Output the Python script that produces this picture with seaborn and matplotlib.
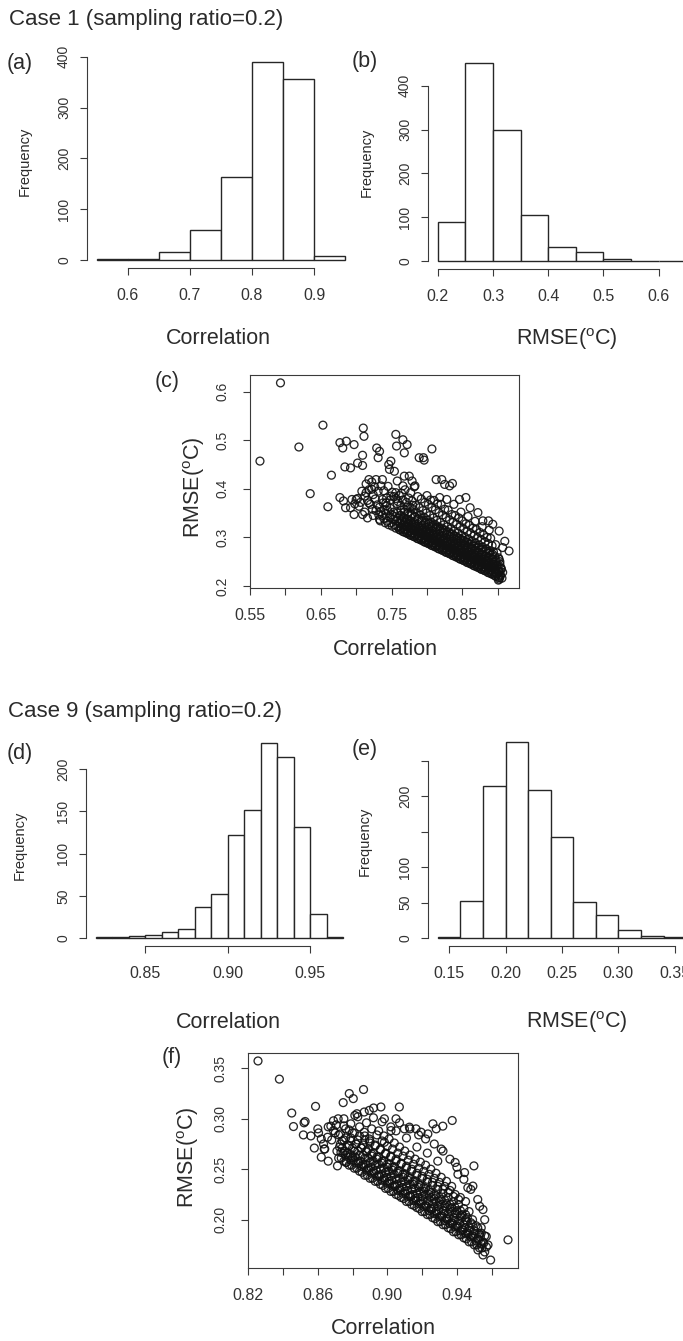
import numpy as np
import pandas as pd
import matplotlib
matplotlib.use("Agg")
import matplotlib.pyplot as plt
import seaborn as sns

# ---------------- data ----------------
# Case 1: histograms (bin edges and counts)
a_edges = [0.55, 0.60, 0.65, 0.70, 0.75, 0.80, 0.85, 0.90, 0.95]
a_counts = [2, 2, 15, 59, 164, 390, 357, 9]
a_xticks = [0.6, 0.7, 0.8, 0.9]
a_yticks = [0, 100, 200, 300, 400]

b_edges = [0.20, 0.25, 0.30, 0.35, 0.40, 0.45, 0.50, 0.55, 0.60, 0.65]
b_counts = [90, 452, 298, 105, 31, 21, 5, 0, 1]
b_xticks = [0.2, 0.3, 0.4, 0.5, 0.6]
b_yticks = [0, 100, 200, 300, 400]

# Case 9: histograms
d_edges = [0.82, 0.83, 0.84, 0.85, 0.86, 0.87, 0.88, 0.89, 0.90, 0.91,
           0.92, 0.93, 0.94, 0.95, 0.96, 0.97]
d_counts = [1, 1, 2, 4, 7, 11, 37, 52, 122, 151, 231, 214, 132, 29, 1]
d_xticks = [0.85, 0.90, 0.95]
d_yticks = [0, 50, 100, 150, 200]

e_edges = [0.14, 0.16, 0.18, 0.20, 0.22, 0.24, 0.26, 0.28, 0.30, 0.32, 0.34, 0.36]
e_counts = [1, 52, 215, 277, 209, 143, 51, 33, 12, 3, 2]
e_xticks = [0.15, 0.20, 0.25, 0.30, 0.35]
e_yticks = [0, 50, 100, 150, 200, 250]
e_yticklabels = ["0", "50", "100", "", "200", ""]

# Case 1 scatter (Correlation, RMSE)
c_points = [
    # isolated / sparse points
    (0.593, 0.618), (0.564, 0.457), (0.619, 0.486), (0.635, 0.390), (0.653, 0.531),
    (0.660, 0.363), (0.665, 0.428), (0.677, 0.495), (0.681, 0.484), (0.686, 0.498),
    (0.697, 0.491), (0.684, 0.445), (0.692, 0.443), (0.677, 0.382), (0.682, 0.375),
    (0.685, 0.361), (0.692, 0.361), (0.702, 0.453), (0.709, 0.448), (0.710, 0.525),
    (0.711, 0.508), (0.709, 0.469), (0.700, 0.378), (0.704, 0.364), (0.697, 0.347),
    (0.709, 0.347), (0.714, 0.392), (0.718, 0.419), (0.722, 0.399), (0.729, 0.484),
    (0.731, 0.464), (0.733, 0.477), (0.728, 0.419), (0.735, 0.406), (0.737, 0.419),
    (0.746, 0.450), (0.749, 0.457), (0.747, 0.440), (0.756, 0.512), (0.757, 0.488),
    (0.754, 0.436), (0.758, 0.416), (0.766, 0.501), (0.772, 0.491), (0.768, 0.474),
    (0.775, 0.426), (0.779, 0.416), (0.783, 0.406), (0.789, 0.464), (0.795, 0.464),
    (0.796, 0.459), (0.807, 0.482), (0.813, 0.419), (0.821, 0.419), (0.825, 0.409),
    (0.832, 0.406), (0.836, 0.411), (0.846, 0.378), (0.855, 0.382), (0.861, 0.361),
    (0.872, 0.351), (0.879, 0.334), (0.887, 0.334), (0.893, 0.327), (0.902, 0.313),
    (0.910, 0.292), (0.916, 0.272), (0.907, 0.279), (0.902, 0.255), (0.905, 0.234),
    (0.902, 0.214), (0.901, 0.212), (0.737, 0.378), (0.742, 0.371), (0.718, 0.371),
    (0.723, 0.358), (0.733, 0.337), (0.716, 0.340), (0.749, 0.385), (0.756, 0.392),
    (0.766, 0.406), (0.768, 0.426),
    (0.702, 0.380), (0.706, 0.372), (0.712, 0.385), (0.716, 0.376), (0.720, 0.368),
    (0.724, 0.388), (0.727, 0.379), (0.730, 0.367), (0.718, 0.398), (0.726, 0.404),
    (0.731, 0.395), (0.708, 0.395), (0.714, 0.410), (0.722, 0.414), (0.728, 0.355),
    (0.732, 0.346), (0.712, 0.352), (0.698, 0.369), (0.694, 0.378), (0.724, 0.345),
    # dense band
    (0.734, 0.334), (0.737, 0.345), (0.735, 0.353), (0.733, 0.362), (0.738, 0.371),
    (0.741, 0.330), (0.739, 0.339), (0.742, 0.349), (0.740, 0.357), (0.743, 0.381), (0.739, 0.396),
    (0.746, 0.326), (0.744, 0.333), (0.747, 0.342), (0.745, 0.355), (0.743, 0.365), (0.748, 0.377), (0.745, 0.405),
    (0.751, 0.323), (0.749, 0.330), (0.752, 0.337), (0.750, 0.347), (0.748, 0.360), (0.753, 0.384), (0.751, 0.393),
    (0.756, 0.319), (0.754, 0.326), (0.757, 0.334), (0.755, 0.343), (0.753, 0.352), (0.758, 0.369), (0.756, 0.380),
    (0.761, 0.316), (0.759, 0.322), (0.762, 0.330), (0.760, 0.339), (0.758, 0.350), (0.763, 0.366), (0.761, 0.386), (0.759, 0.374),
    (0.766, 0.312), (0.764, 0.318), (0.767, 0.325), (0.765, 0.333), (0.763, 0.345), (0.768, 0.358), (0.766, 0.377), (0.764, 0.391),
    (0.771, 0.309), (0.769, 0.315), (0.772, 0.322), (0.770, 0.331), (0.768, 0.340), (0.773, 0.352), (0.771, 0.372), (0.769, 0.398), (0.772, 0.362),
    (0.776, 0.305), (0.774, 0.311), (0.777, 0.318), (0.775, 0.326), (0.773, 0.335), (0.778, 0.348), (0.776, 0.362), (0.774, 0.381), (0.777, 0.392),
    (0.781, 0.302), (0.779, 0.308), (0.782, 0.314), (0.780, 0.321), (0.778, 0.330), (0.783, 0.343), (0.781, 0.357), (0.779, 0.375), (0.782, 0.404), (0.780, 0.366),
    (0.786, 0.298), (0.784, 0.304), (0.787, 0.311), (0.785, 0.318), (0.783, 0.327), (0.788, 0.338), (0.786, 0.350), (0.784, 0.366), (0.787, 0.384),
    (0.791, 0.295), (0.789, 0.300), (0.792, 0.307), (0.790, 0.314), (0.788, 0.322), (0.793, 0.333), (0.791, 0.346), (0.789, 0.361), (0.792, 0.379),
    (0.796, 0.291), (0.794, 0.297), (0.797, 0.304), (0.795, 0.311), (0.793, 0.319), (0.798, 0.329), (0.796, 0.341), (0.794, 0.355), (0.797, 0.372),
    (0.801, 0.288), (0.799, 0.293), (0.802, 0.299), (0.800, 0.306), (0.798, 0.314), (0.803, 0.323), (0.801, 0.336), (0.799, 0.350), (0.802, 0.368), (0.800, 0.386),
    (0.806, 0.284), (0.804, 0.290), (0.807, 0.296), (0.805, 0.303), (0.803, 0.311), (0.808, 0.320), (0.806, 0.331), (0.804, 0.345), (0.807, 0.362), (0.805, 0.377),
    (0.811, 0.281), (0.809, 0.286), (0.812, 0.292), (0.810, 0.299), (0.808, 0.307), (0.813, 0.316), (0.811, 0.327), (0.809, 0.340), (0.812, 0.357), (0.810, 0.376),
    (0.816, 0.277), (0.814, 0.283), (0.817, 0.289), (0.815, 0.296), (0.813, 0.304), (0.818, 0.312), (0.816, 0.322), (0.814, 0.335), (0.817, 0.351), (0.815, 0.369),
    (0.821, 0.274), (0.819, 0.279), (0.822, 0.285), (0.820, 0.292), (0.818, 0.300), (0.823, 0.309), (0.821, 0.319), (0.819, 0.331), (0.822, 0.346), (0.820, 0.368), (0.818, 0.382),
    (0.826, 0.270), (0.824, 0.276), (0.827, 0.282), (0.825, 0.288), (0.823, 0.296), (0.828, 0.305), (0.826, 0.315), (0.824, 0.326), (0.827, 0.341), (0.825, 0.358),
    (0.831, 0.267), (0.829, 0.272), (0.832, 0.278), (0.830, 0.285), (0.828, 0.292), (0.833, 0.301), (0.831, 0.311), (0.829, 0.322), (0.832, 0.336), (0.830, 0.356), (0.828, 0.378),
    (0.836, 0.263), (0.834, 0.269), (0.837, 0.275), (0.835, 0.281), (0.833, 0.289), (0.838, 0.297), (0.836, 0.307), (0.834, 0.318), (0.837, 0.331), (0.835, 0.347),
    (0.841, 0.260), (0.839, 0.265), (0.842, 0.271), (0.840, 0.278), (0.838, 0.285), (0.843, 0.293), (0.841, 0.302), (0.839, 0.313), (0.842, 0.327), (0.840, 0.345), (0.838, 0.368),
    (0.846, 0.256), (0.844, 0.262), (0.847, 0.268), (0.845, 0.274), (0.843, 0.281), (0.848, 0.289), (0.846, 0.298), (0.844, 0.309), (0.847, 0.322), (0.845, 0.340),
    (0.851, 0.253), (0.849, 0.258), (0.852, 0.264), (0.850, 0.270), (0.848, 0.277), (0.853, 0.285), (0.851, 0.294), (0.849, 0.304), (0.852, 0.317), (0.850, 0.334), (0.848, 0.352),
    (0.856, 0.249), (0.854, 0.255), (0.857, 0.261), (0.855, 0.267), (0.853, 0.274), (0.858, 0.281), (0.856, 0.290), (0.854, 0.300), (0.857, 0.312), (0.855, 0.328),
    (0.861, 0.246), (0.859, 0.251), (0.862, 0.257), (0.860, 0.263), (0.858, 0.270), (0.863, 0.278), (0.861, 0.286), (0.859, 0.296), (0.862, 0.308), (0.860, 0.325), (0.858, 0.343),
    (0.866, 0.242), (0.864, 0.248), (0.867, 0.254), (0.865, 0.260), (0.863, 0.266), (0.868, 0.274), (0.866, 0.282), (0.864, 0.292), (0.867, 0.304), (0.865, 0.319),
    (0.871, 0.239), (0.869, 0.244), (0.872, 0.250), (0.870, 0.256), (0.868, 0.263), (0.873, 0.270), (0.871, 0.278), (0.869, 0.288), (0.872, 0.299), (0.870, 0.316), (0.868, 0.333),
    (0.876, 0.235), (0.874, 0.241), (0.877, 0.247), (0.875, 0.253), (0.873, 0.259), (0.878, 0.266), (0.876, 0.274), (0.874, 0.284), (0.877, 0.295), (0.875, 0.310),
    (0.881, 0.232), (0.879, 0.237), (0.882, 0.243), (0.880, 0.249), (0.878, 0.255), (0.883, 0.262), (0.881, 0.270), (0.879, 0.280), (0.882, 0.291), (0.880, 0.305), (0.878, 0.322),
    (0.886, 0.228), (0.884, 0.234), (0.887, 0.240), (0.885, 0.246), (0.883, 0.252), (0.888, 0.259), (0.886, 0.267), (0.884, 0.276), (0.887, 0.287), (0.885, 0.300),
    (0.891, 0.225), (0.889, 0.230), (0.892, 0.236), (0.890, 0.242), (0.888, 0.248), (0.893, 0.255), (0.891, 0.263), (0.889, 0.272), (0.892, 0.283), (0.890, 0.298), (0.888, 0.315),
    (0.896, 0.221), (0.894, 0.227), (0.897, 0.233), (0.895, 0.239), (0.893, 0.245), (0.898, 0.252), (0.896, 0.260), (0.894, 0.270), (0.897, 0.285),
    (0.901, 0.218), (0.899, 0.224), (0.902, 0.230), (0.900, 0.236), (0.898, 0.243), (0.903, 0.250), (0.901, 0.258), (0.899, 0.268),
    (0.906, 0.216), (0.904, 0.221), (0.907, 0.228), (0.905, 0.236), (0.903, 0.245),
]
# Case 1 scatter: darkest core of the cloud (read between the columns above)
c_core = [
    (0.7625, 0.315), (0.7635, 0.321), (0.7615, 0.328), (0.764, 0.336), (0.762, 0.345), (0.763, 0.356),
    (0.7675, 0.311), (0.7685, 0.317), (0.7665, 0.324), (0.769, 0.332), (0.767, 0.341), (0.768, 0.352),
    (0.7725, 0.308), (0.7735, 0.314), (0.7715, 0.321), (0.774, 0.329), (0.772, 0.338), (0.773, 0.349),
    (0.7775, 0.304), (0.7785, 0.310), (0.7765, 0.317), (0.779, 0.325), (0.777, 0.334), (0.778, 0.345),
    (0.7825, 0.301), (0.7835, 0.307), (0.7815, 0.314), (0.784, 0.322), (0.782, 0.331), (0.783, 0.342),
    (0.7875, 0.297), (0.7885, 0.303), (0.7865, 0.310), (0.789, 0.318), (0.787, 0.327), (0.788, 0.338),
    (0.7925, 0.294), (0.7935, 0.300), (0.7915, 0.307), (0.794, 0.315), (0.792, 0.324), (0.793, 0.335),
    (0.7975, 0.290), (0.7985, 0.296), (0.7965, 0.303), (0.799, 0.311), (0.797, 0.320), (0.798, 0.331),
    (0.8025, 0.287), (0.8035, 0.293), (0.8015, 0.300), (0.804, 0.308), (0.802, 0.317), (0.803, 0.328),
    (0.8075, 0.283), (0.8085, 0.289), (0.8065, 0.296), (0.809, 0.304), (0.807, 0.313), (0.808, 0.324),
    (0.8125, 0.280), (0.8135, 0.286), (0.8115, 0.293), (0.814, 0.301), (0.812, 0.310), (0.813, 0.321),
    (0.8175, 0.276), (0.8185, 0.282), (0.8165, 0.289), (0.819, 0.297), (0.817, 0.306), (0.818, 0.317),
    (0.8225, 0.273), (0.8235, 0.279), (0.8215, 0.286), (0.824, 0.294), (0.822, 0.303), (0.823, 0.314),
    (0.8275, 0.269), (0.8285, 0.275), (0.8265, 0.282), (0.829, 0.290), (0.827, 0.299), (0.828, 0.310),
    (0.8325, 0.266), (0.8335, 0.272), (0.8315, 0.279), (0.834, 0.287), (0.832, 0.296), (0.833, 0.307),
    (0.8375, 0.262), (0.8385, 0.268), (0.8365, 0.275), (0.839, 0.283), (0.837, 0.292), (0.838, 0.303),
    (0.8425, 0.259), (0.8435, 0.265), (0.8415, 0.272), (0.844, 0.280), (0.842, 0.289), (0.843, 0.300),
    (0.8475, 0.255), (0.8485, 0.261), (0.8465, 0.268), (0.849, 0.276), (0.847, 0.285), (0.848, 0.296),
    (0.8525, 0.252), (0.8535, 0.258), (0.8515, 0.265), (0.854, 0.273), (0.852, 0.282), (0.853, 0.293),
    (0.8575, 0.248), (0.8585, 0.254), (0.8565, 0.261), (0.859, 0.269), (0.857, 0.278), (0.858, 0.289),
    (0.8625, 0.245), (0.8635, 0.251), (0.8615, 0.258), (0.864, 0.266), (0.862, 0.275), (0.863, 0.286),
    (0.8675, 0.241), (0.8685, 0.247), (0.8665, 0.254), (0.869, 0.262), (0.867, 0.271), (0.868, 0.282),
    (0.8725, 0.238), (0.8735, 0.244), (0.8715, 0.251), (0.874, 0.259), (0.872, 0.268), (0.873, 0.279),
    (0.8775, 0.234), (0.8785, 0.240), (0.8765, 0.247), (0.879, 0.255), (0.877, 0.264), (0.878, 0.275),
    (0.8825, 0.231), (0.8835, 0.237), (0.8815, 0.244), (0.884, 0.252), (0.882, 0.261), (0.883, 0.272),
    (0.8875, 0.227), (0.8885, 0.233), (0.8865, 0.240), (0.889, 0.248), (0.887, 0.257), (0.888, 0.268),
    (0.8925, 0.224), (0.8935, 0.230), (0.8915, 0.237), (0.894, 0.245), (0.892, 0.254), (0.893, 0.265),
    (0.8975, 0.220), (0.8985, 0.226), (0.8965, 0.233), (0.899, 0.241), (0.897, 0.250),
    (0.9025, 0.217), (0.9035, 0.223), (0.9015, 0.230), (0.904, 0.238),
]
c_xticks = [0.55, 0.60, 0.65, 0.70, 0.75, 0.80, 0.85, 0.90]
c_xticklabels = ["0.55", "", "0.65", "", "0.75", "", "0.85", ""]
c_yticks = [0.2, 0.3, 0.4, 0.5, 0.6]

# Case 9 scatter (Correlation, RMSE)
f_points = [
    # isolated / sparse points
    (0.8256, 0.3573), (0.8379, 0.3393), (0.8450, 0.3057), (0.8460, 0.2923), (0.8521, 0.2960),
    (0.8527, 0.2973), (0.8517, 0.2840), (0.8587, 0.3123), (0.8604, 0.2860), (0.8633, 0.2750),
    (0.8637, 0.2700), (0.8656, 0.2817), (0.8675, 0.2927), (0.8690, 0.2883), (0.8706, 0.2940),
    (0.8717, 0.3000), (0.8746, 0.3160), (0.8781, 0.3250), (0.8804, 0.3200), (0.8863, 0.3290),
    (0.8813, 0.3033), (0.8825, 0.3050), (0.8867, 0.3067), (0.8896, 0.3083), (0.8921, 0.3107),
    (0.8963, 0.3117), (0.8983, 0.3000), (0.9050, 0.3000), (0.9069, 0.3117), (0.9098, 0.2900),
    (0.9127, 0.2917), (0.9165, 0.2900), (0.9194, 0.2867), (0.9233, 0.2850), (0.9262, 0.2950),
    (0.9281, 0.2900), (0.9319, 0.2927), (0.9373, 0.2983), (0.9310, 0.2700), (0.9390, 0.2567),
    (0.9406, 0.2450), (0.9444, 0.2467), (0.9498, 0.2533), (0.9463, 0.2317), (0.9492, 0.2333),
    (0.9531, 0.2133), (0.9560, 0.2000), (0.9540, 0.1867), (0.9569, 0.1833), (0.9579, 0.1750),
    (0.9694, 0.1800), (0.9594, 0.1600), (0.9550, 0.1650), (0.9521, 0.1700), (0.8733, 0.2667),
    (0.8762, 0.2567), (0.8713, 0.2533), (0.8790, 0.2633), (0.8867, 0.2867), (0.8896, 0.2800),
    (0.9021, 0.2883), (0.8983, 0.2767),
    (0.862, 0.262), (0.864, 0.270), (0.866, 0.258), (0.868, 0.279), (0.870, 0.286),
    (0.866, 0.292), (0.862, 0.280), (0.858, 0.271), (0.856, 0.283), (0.860, 0.290),
    (0.869, 0.298), (0.875, 0.300), (0.879, 0.295), (0.883, 0.302), (0.888, 0.296),
    (0.892, 0.301), (0.897, 0.297), (0.902, 0.292), (0.907, 0.296), (0.913, 0.290),
    (0.918, 0.284), (0.922, 0.280), (0.927, 0.275), (0.932, 0.268), (0.936, 0.260),
    (0.940, 0.252), (0.944, 0.240), (0.948, 0.230), (0.952, 0.220), (0.955, 0.210),
    # dense band
    (0.872, 0.261), (0.871, 0.268), (0.873, 0.275), (0.872, 0.284),
    (0.875, 0.258), (0.876, 0.264), (0.874, 0.271), (0.875, 0.279), (0.876, 0.290),
    (0.878, 0.254), (0.879, 0.259), (0.877, 0.266), (0.878, 0.273), (0.879, 0.281),
    (0.881, 0.251), (0.882, 0.256), (0.880, 0.262), (0.881, 0.268), (0.882, 0.275), (0.880, 0.286),
    (0.884, 0.248), (0.885, 0.253), (0.883, 0.258), (0.884, 0.264), (0.885, 0.271), (0.883, 0.279), (0.884, 0.292),
    (0.887, 0.244), (0.888, 0.249), (0.886, 0.255), (0.887, 0.261), (0.888, 0.267), (0.886, 0.274), (0.887, 0.283),
    (0.890, 0.241), (0.891, 0.246), (0.889, 0.251), (0.890, 0.257), (0.891, 0.263), (0.889, 0.270), (0.890, 0.278), (0.891, 0.290),
    (0.893, 0.238), (0.894, 0.243), (0.892, 0.248), (0.893, 0.254), (0.894, 0.260), (0.892, 0.266), (0.893, 0.274), (0.894, 0.284),
    (0.896, 0.235), (0.897, 0.239), (0.895, 0.244), (0.896, 0.250), (0.897, 0.256), (0.895, 0.262), (0.896, 0.269), (0.897, 0.278), (0.895, 0.288),
    (0.899, 0.231), (0.900, 0.236), (0.898, 0.241), (0.899, 0.247), (0.900, 0.252), (0.898, 0.258), (0.899, 0.265), (0.900, 0.273), (0.898, 0.283),
    (0.902, 0.228), (0.903, 0.233), (0.901, 0.238), (0.902, 0.243), (0.903, 0.249), (0.901, 0.255), (0.902, 0.262), (0.903, 0.270), (0.901, 0.280),
    (0.905, 0.225), (0.906, 0.229), (0.904, 0.234), (0.905, 0.240), (0.906, 0.246), (0.904, 0.252), (0.905, 0.258), (0.906, 0.266), (0.904, 0.276), (0.905, 0.288),
    (0.908, 0.222), (0.909, 0.226), (0.907, 0.231), (0.908, 0.237), (0.909, 0.242), (0.907, 0.248), (0.908, 0.255), (0.909, 0.263), (0.907, 0.272),
    (0.911, 0.218), (0.912, 0.223), (0.910, 0.228), (0.911, 0.233), (0.912, 0.239), (0.910, 0.245), (0.911, 0.251), (0.912, 0.259), (0.910, 0.268), (0.911, 0.281),
    (0.914, 0.215), (0.915, 0.219), (0.913, 0.224), (0.914, 0.230), (0.915, 0.235), (0.913, 0.241), (0.914, 0.248), (0.915, 0.255), (0.913, 0.264),
    (0.917, 0.212), (0.918, 0.216), (0.916, 0.221), (0.917, 0.226), (0.918, 0.232), (0.916, 0.238), (0.917, 0.244), (0.918, 0.251), (0.916, 0.260), (0.917, 0.272),
    (0.920, 0.208), (0.921, 0.213), (0.919, 0.218), (0.920, 0.223), (0.921, 0.228), (0.919, 0.234), (0.920, 0.241), (0.921, 0.248), (0.919, 0.257),
    (0.923, 0.205), (0.924, 0.209), (0.922, 0.214), (0.923, 0.219), (0.924, 0.225), (0.922, 0.231), (0.923, 0.237), (0.924, 0.245), (0.922, 0.254), (0.923, 0.266),
    (0.926, 0.202), (0.927, 0.206), (0.925, 0.211), (0.926, 0.216), (0.927, 0.221), (0.925, 0.227), (0.926, 0.234), (0.927, 0.241), (0.925, 0.250),
    (0.929, 0.198), (0.930, 0.203), (0.928, 0.208), (0.929, 0.213), (0.930, 0.218), (0.928, 0.224), (0.929, 0.230), (0.930, 0.237), (0.928, 0.246), (0.929, 0.258),
    (0.932, 0.195), (0.933, 0.199), (0.931, 0.204), (0.932, 0.209), (0.933, 0.214), (0.931, 0.220), (0.932, 0.226), (0.933, 0.233), (0.931, 0.242),
    (0.935, 0.192), (0.936, 0.196), (0.934, 0.201), (0.935, 0.206), (0.936, 0.211), (0.934, 0.216), (0.935, 0.222), (0.936, 0.229), (0.934, 0.238),
    (0.938, 0.188), (0.939, 0.193), (0.937, 0.197), (0.938, 0.202), (0.939, 0.207), (0.937, 0.212), (0.938, 0.218), (0.939, 0.225), (0.937, 0.233),
    (0.941, 0.185), (0.942, 0.189), (0.940, 0.194), (0.941, 0.199), (0.942, 0.204), (0.940, 0.209), (0.941, 0.215), (0.942, 0.222),
    (0.944, 0.182), (0.945, 0.186), (0.943, 0.190), (0.944, 0.195), (0.945, 0.200), (0.943, 0.205), (0.944, 0.211), (0.945, 0.218),
    (0.947, 0.178), (0.948, 0.183), (0.946, 0.187), (0.947, 0.192), (0.948, 0.197), (0.946, 0.202), (0.947, 0.208),
    (0.950, 0.175), (0.951, 0.179), (0.949, 0.184), (0.950, 0.189), (0.951, 0.194), (0.949, 0.200),
    (0.953, 0.172), (0.954, 0.176), (0.952, 0.181), (0.953, 0.186), (0.954, 0.192),
    (0.956, 0.168), (0.957, 0.173), (0.955, 0.178), (0.956, 0.184),
]
# Case 9 scatter: darkest core of the cloud (read between the columns above)
f_core = [
    (0.8735, 0.261), (0.8745, 0.266), (0.8725, 0.272), (0.874, 0.278), (0.873, 0.285), (0.875, 0.293),
    (0.8765, 0.257), (0.8775, 0.262), (0.8755, 0.268), (0.877, 0.274), (0.876, 0.281), (0.878, 0.289),
    (0.8795, 0.254), (0.8805, 0.259), (0.8785, 0.265), (0.880, 0.271), (0.879, 0.278), (0.881, 0.286),
    (0.8825, 0.251), (0.8835, 0.256), (0.8815, 0.262), (0.883, 0.268), (0.882, 0.275), (0.884, 0.283),
    (0.8855, 0.247), (0.8865, 0.252), (0.8845, 0.258), (0.886, 0.264), (0.885, 0.271), (0.887, 0.279),
    (0.8885, 0.244), (0.8895, 0.249), (0.8875, 0.255), (0.889, 0.261), (0.888, 0.268), (0.890, 0.276),
    (0.8915, 0.241), (0.8925, 0.246), (0.8905, 0.252), (0.892, 0.258), (0.891, 0.265), (0.893, 0.273),
    (0.8945, 0.238), (0.8955, 0.243), (0.8935, 0.249), (0.895, 0.255), (0.894, 0.262), (0.896, 0.270),
    (0.8975, 0.234), (0.8985, 0.239), (0.8965, 0.245), (0.898, 0.251), (0.897, 0.258), (0.899, 0.266),
    (0.9005, 0.231), (0.9015, 0.236), (0.8995, 0.242), (0.901, 0.248), (0.900, 0.255), (0.902, 0.263),
    (0.9035, 0.228), (0.9045, 0.233), (0.9025, 0.239), (0.904, 0.245), (0.903, 0.252), (0.905, 0.260),
    (0.9065, 0.224), (0.9075, 0.229), (0.9055, 0.235), (0.907, 0.241), (0.906, 0.248), (0.908, 0.256),
    (0.9095, 0.221), (0.9105, 0.226), (0.9085, 0.232), (0.910, 0.238), (0.909, 0.245), (0.911, 0.253),
    (0.9125, 0.218), (0.9135, 0.223), (0.9115, 0.229), (0.913, 0.235), (0.912, 0.242), (0.914, 0.250),
    (0.9155, 0.214), (0.9165, 0.219), (0.9145, 0.225), (0.916, 0.231), (0.915, 0.238), (0.917, 0.246),
    (0.9185, 0.211), (0.9195, 0.216), (0.9175, 0.222), (0.919, 0.228), (0.918, 0.235), (0.920, 0.243),
    (0.9215, 0.208), (0.9225, 0.213), (0.9205, 0.219), (0.922, 0.225), (0.921, 0.232), (0.923, 0.240),
    (0.9245, 0.205), (0.9255, 0.210), (0.9235, 0.216), (0.925, 0.222), (0.924, 0.229), (0.926, 0.237),
    (0.9275, 0.201), (0.9285, 0.206), (0.9265, 0.212), (0.928, 0.218), (0.927, 0.225), (0.929, 0.233),
    (0.9305, 0.198), (0.9315, 0.203), (0.9295, 0.209), (0.931, 0.215), (0.930, 0.222), (0.932, 0.230),
    (0.9335, 0.195), (0.9345, 0.200), (0.9325, 0.206), (0.934, 0.212), (0.933, 0.219), (0.935, 0.227),
    (0.9365, 0.191), (0.9375, 0.196), (0.9355, 0.202), (0.937, 0.208), (0.936, 0.215), (0.938, 0.223),
    (0.9395, 0.188), (0.9405, 0.193), (0.9385, 0.199), (0.940, 0.205), (0.939, 0.212), (0.941, 0.220),
    (0.9425, 0.185), (0.9435, 0.190), (0.9415, 0.196), (0.943, 0.202), (0.942, 0.209),
    (0.9455, 0.181), (0.9465, 0.186), (0.9445, 0.192), (0.946, 0.198), (0.945, 0.205),
    (0.9485, 0.178), (0.9495, 0.183), (0.9475, 0.189), (0.949, 0.195),
    (0.9515, 0.175), (0.9525, 0.180), (0.9505, 0.186), (0.952, 0.192),
    (0.9545, 0.172), (0.9555, 0.177), (0.9535, 0.183),
]
f_xticks = [0.82, 0.84, 0.86, 0.88, 0.90, 0.92, 0.94, 0.96]
f_xticklabels = ["0.82", "", "0.86", "", "0.90", "", "0.94", ""]
f_yticks = [0.20, 0.25, 0.30, 0.35]
f_yticklabels = ["0.20", "0.25", "0.30", "0.35"]

# ---------------- style ----------------
sns.set_theme(style="ticks")
plt.rcParams["font.family"] = ["Liberation Sans", "DejaVu Sans"]
plt.rcParams["mathtext.fontset"] = "custom"
plt.rcParams["mathtext.rm"] = "Liberation Sans"
plt.rcParams["mathtext.it"] = "Liberation Sans:italic"

W, H = 683, 1341
fig = plt.figure(figsize=(W / 100, H / 100), dpi=100)
fig.patch.set_facecolor("white")

INK = "#2b2b2b"
AX_C = "#3a3a3a"
BIG = 15.5
XT = 11.5
YT = 10
FREQ = 10.5
RMSE_LBL = r"RMSE($^{\mathrm{o}}$C)"


def px_axes(l, t, r, b):
    return fig.add_axes([l / W, 1 - b / H, (r - l) / W, (b - t) / H])


def ftext(x, y, s, **kw):
    kw.setdefault("color", INK)
    fig.text(x / W, 1 - y / H, s, **kw)


def rlim(lo, hi):
    d = (hi - lo) * 0.04
    return lo - d, hi + d


def style_ticks(ax, xpad, ypad):
    ax.tick_params(axis="both", direction="out", length=5, width=0.8,
                   color=AX_C, labelcolor="#333333")
    ax.tick_params(axis="x", labelsize=XT, pad=xpad)
    ax.tick_params(axis="y", labelsize=YT, pad=ypad, labelrotation=90)
    for t in ax.get_yticklabels():
        t.set_verticalalignment("center")
    ax.set_xlabel("")
    ax.set_ylabel("")


def hist_panel(ax, edges, counts, xticks, yticks, yticklabels=None, xfmt="{:.1f}"):
    centers = [(edges[i] + edges[i + 1]) / 2 for i in range(len(counts))]
    df = pd.DataFrame({"x": centers, "w": counts})
    sns.histplot(data=df, x="x", weights="w", bins=edges, ax=ax,
                 color="white", edgecolor="#262626", linewidth=1.0,
                 alpha=1.0, fill=True)
    ax.set_xlim(*rlim(edges[0], edges[-1]))
    ax.set_ylim(*rlim(0, max(counts)))
    ax.set_xticks(xticks)
    ax.set_xticklabels([xfmt.format(v) for v in xticks])
    ax.set_yticks(yticks)
    ax.set_yticklabels(yticklabels if yticklabels is not None else [str(v) for v in yticks])
    for s in ("top", "right"):
        ax.spines[s].set_visible(False)
    for s in ("left", "bottom"):
        ax.spines[s].set_color(AX_C)
        ax.spines[s].set_linewidth(0.8)
    ax.spines["left"].set_bounds(yticks[0], yticks[-1])
    ax.spines["bottom"].set_bounds(xticks[0], xticks[-1])
    ax.set_facecolor("none")
    style_ticks(ax, xpad=9.5, ypad=6.5)


def scatter_panel(ax, pts, xticks, xticklabels, yticks, yticklabels):
    df = pd.DataFrame(pts, columns=["corr", "rmse"])
    sns.scatterplot(data=df, x="corr", y="rmse", ax=ax, marker="o", s=32,
                    facecolor="none", edgecolor="#111111", linewidth=0.95,
                    alpha=0.9, legend=False)
    ax.set_xlim(*rlim(df["corr"].min(), df["corr"].max()))
    ax.set_ylim(*rlim(df["rmse"].min(), df["rmse"].max()))
    ax.set_xticks(xticks)
    ax.set_xticklabels(xticklabels)
    ax.set_yticks(yticks)
    ax.set_yticklabels(yticklabels)
    for s in ax.spines.values():
        s.set_visible(True)
        s.set_color(AX_C)
        s.set_linewidth(0.8)
    ax.set_facecolor("none")
    style_ticks(ax, xpad=9.5, ypad=9.5)


# ---------------- Case 1 ----------------
ax_a = px_axes(87, 54, 355, 268)
hist_panel(ax_a, a_edges, a_counts, a_xticks, a_yticks)
ax_b = px_axes(428, 55, 696, 269)
hist_panel(ax_b, b_edges, b_counts, b_xticks, b_yticks)
ax_c = px_axes(250, 375, 519, 588)
scatter_panel(ax_c, c_points + c_core, c_xticks, c_xticklabels, c_yticks,
              ["{:.1f}".format(v) for v in c_yticks])

# ---------------- Case 9 ----------------
ax_d = px_axes(86, 735, 353, 946)
hist_panel(ax_d, d_edges, d_counts, d_xticks, d_yticks, xfmt="{:.2f}")
ax_e = px_axes(428, 734, 696, 946)
hist_panel(ax_e, e_edges, e_counts, e_xticks, e_yticks, e_yticklabels, xfmt="{:.2f}")
ax_f = px_axes(248, 1053, 518, 1268)
scatter_panel(ax_f, f_points + f_core, f_xticks, f_xticklabels, f_yticks, f_yticklabels)

# ---------------- texts ----------------
ftext(9, 19, "Case 1 (sampling ratio=0.2)", fontsize=16, ha="left", va="center")
ftext(8, 711, "Case 9 (sampling ratio=0.2)", fontsize=16, ha="left", va="center")

for lbl, x, y in [("(a)", 20, 64), ("(b)", 365, 62), ("(c)", 167, 381),
                  ("(d)", 20, 754), ("(e)", 365, 750), ("(f)", 172, 1057)]:
    ftext(x, y, lbl, fontsize=BIG, ha="center", va="center")

for x, y in [(25, 161), (367, 162), (20, 845), (365, 841)]:
    ftext(x, y, "Frequency", fontsize=FREQ, rotation=90, ha="center", va="center")

ftext(218, 339, "Correlation", fontsize=BIG, ha="center", va="center")
ftext(567, 339, RMSE_LBL, fontsize=BIG, ha="center", va="center")
ftext(385, 650, "Correlation", fontsize=BIG, ha="center", va="center")
ftext(194, 487, RMSE_LBL, fontsize=BIG, rotation=90, ha="center", va="center")

ftext(228, 1022, "Correlation", fontsize=BIG, ha="center", va="center")
ftext(577, 1022, RMSE_LBL, fontsize=BIG, ha="center", va="center")
ftext(383, 1329, "Correlation", fontsize=BIG, ha="center", va="center")
ftext(188, 1157, RMSE_LBL, fontsize=BIG, rotation=90, ha="center", va="center")

fig.savefig("out.png", dpi=100, facecolor="white")
